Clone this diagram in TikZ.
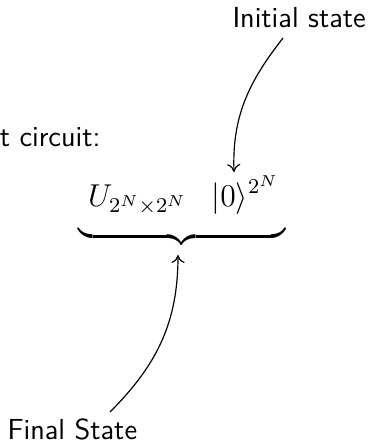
\documentclass[tikz,border=0pt]{standalone}
\usepackage{amsmath}
\usetikzlibrary{arrows.meta}
\begin{document}
\begin{tikzpicture}[x=0.37936pt,y=0.37936pt,
  lbl/.style={inner sep=0pt,font=\fontsize{11}{13}\sffamily\selectfont},
  mth/.style={inner sep=0pt,font=\large},
  conn/.style={-{Computer Modern Rightarrow[length=3pt,width=5pt]},line width=0.45pt}]
\useasboundingbox (0,0) rectangle (374,446);
\node[lbl,anchor=base west] (init) at (232,418) {Initial state};
\node[lbl,anchor=base east] (circ) at (101,299) {t circuit:};
\node[mth,anchor=base west] (eq) at (78,239) {$\underbrace{\hspace{0.3em}\rule[-7.5pt]{0pt}{1pt}U_{2^N\times 2^N}\hspace{0.78em}|0\rangle^{2^N}\hspace{0.2em}}$};
\node[lbl,anchor=base west] (fin) at (7,6) {Final State};
\coordinate (a1) at (283,408);
\coordinate (a2) at (234,274);
\coordinate (b1) at (110,34);
\coordinate (b2) at (178,191);
\draw[conn] (a1) to[out=232,in=92] (a2);
\draw[conn] (b1) to[out=45,in=-90] (b2);
\end{tikzpicture}
\end{document}
